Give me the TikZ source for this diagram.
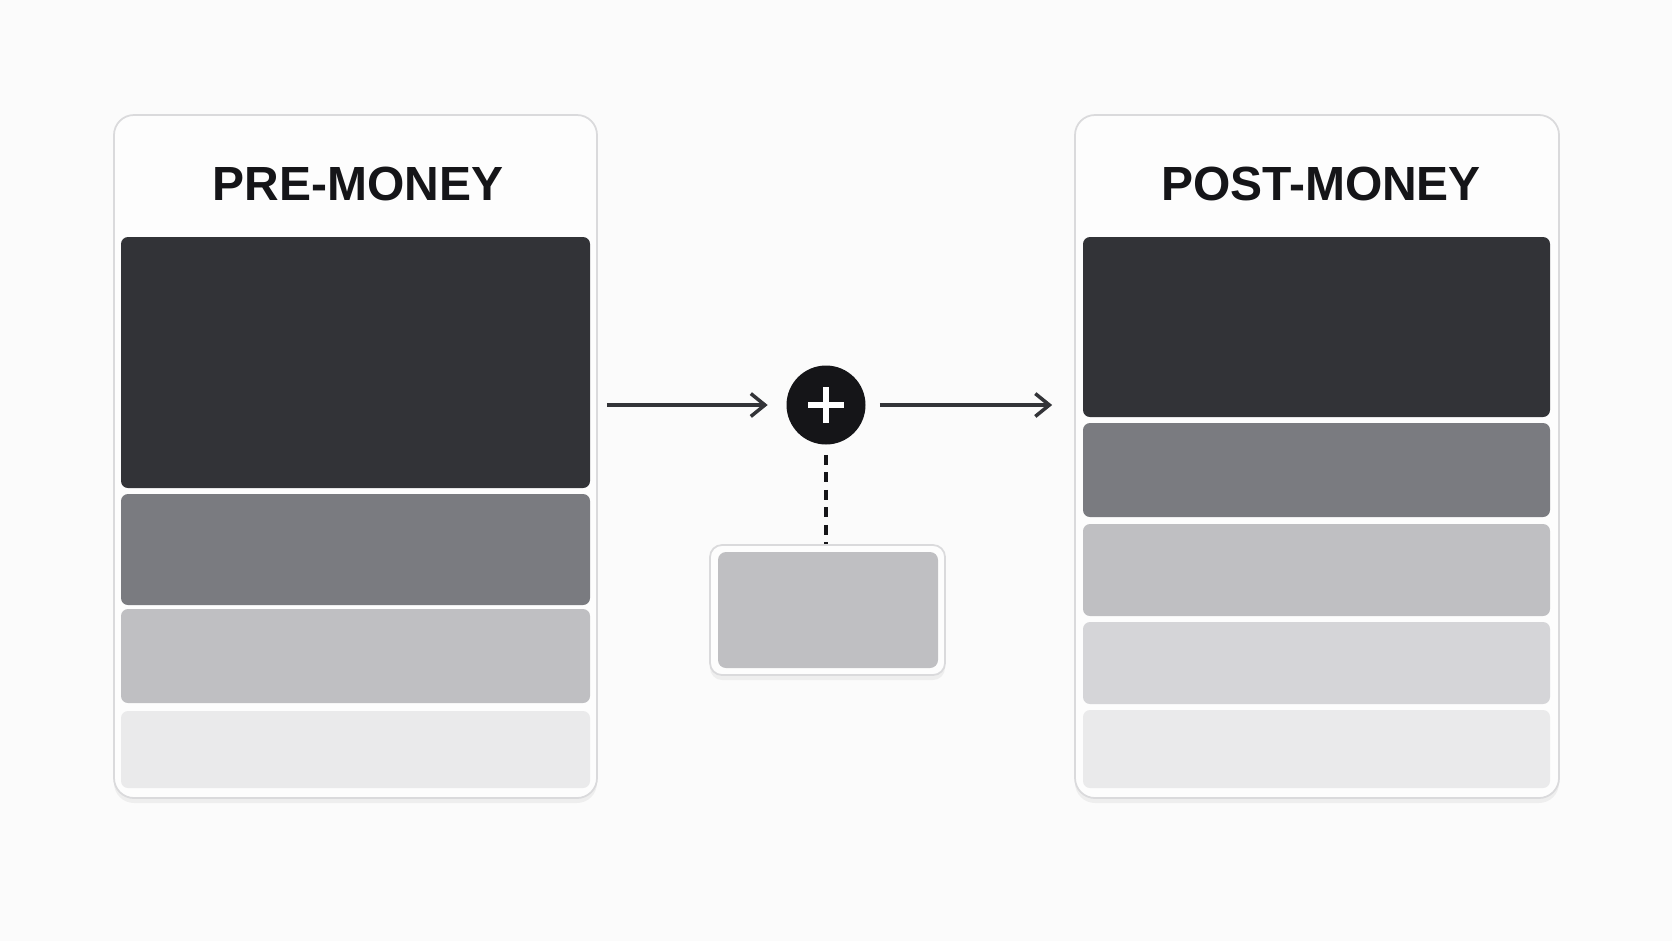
\documentclass[tikz,border=0pt]{standalone}
\usepackage{fontspec}
\setmainfont{Liberation Sans}
\usetikzlibrary{arrows.meta,fit,shadows}
\definecolor{ink}{HTML}{151518}
\definecolor{arrowgray}{HTML}{333438}
\definecolor{edge}{HTML}{DADADC}
\definecolor{paper}{HTML}{FBFBFB}
\definecolor{card}{HTML}{FDFDFD}
\definecolor{shareA}{HTML}{323337}
\definecolor{shareB}{HTML}{7A7B80}
\definecolor{shareC}{HTML}{BFBFC2}
\definecolor{shareD}{HTML}{D5D5D8}
\definecolor{shareE}{HTML}{EAEAEB}
\begin{document}
\begin{tikzpicture}
[x={(0.02cm,0)}, y={(0,-0.02cm)},
 panel/.style={draw=edge, line width=1pt, fill=card, rounded corners=0.4cm, inner sep=0pt,
   drop shadow={shadow xshift=0pt, shadow yshift=-0.1cm, opacity=0.05, fill=black}},
 bar/.style={fill=#1, rounded corners=0.14cm, inner sep=0pt},
 title/.style={font=\fontsize{27.3}{30}\selectfont\bfseries, text=ink, anchor=base},
 flow/.style={draw=arrowgray, line width=2pt, -{Straight Barb[length=8pt,width=13pt]}}]
\useasboundingbox (0,0) rectangle (1672,941);
\fill[paper] (0,0) rectangle (1672,941);

% before the round
\node (Pre) [panel, fit={(114,115) (597,798)}] {};
\node (PreTitle) at (358,200) [title] {PRE-MONEY};
\node (PreA) [bar=shareA, fit={(121,237) (590,488)}] {};
\node (PreB) [bar=shareB, fit={(121,494) (590,605)}] {};
\node (PreC) [bar=shareC, fit={(121,609) (590,703)}] {};
\node (PreD) [bar=shareE, fit={(121,711) (590,788)}] {};

% after the round
\node (Post) [panel, fit={(1075,115) (1559,798)}] {};
\node (PostTitle) at (1321,200) [title] {POST-MONEY};
\node (PostA) [bar=shareA, fit={(1083,237) (1550,417)}] {};
\node (PostB) [bar=shareB, fit={(1083,423) (1550,517)}] {};
\node (PostC) [bar=shareC, fit={(1083,524) (1550,616)}] {};
\node (PostD) [bar=shareD, fit={(1083,622) (1550,704)}] {};
\node (PostE) [bar=shareE, fit={(1083,710) (1550,788)}] {};

% new shares
\node (Plus) at (826,405) [circle, fill=ink, minimum size=1.58cm, inner sep=0pt] {};
\draw[white, line width=3.6pt] ([xshift=-0.36cm]Plus.center) -- ([xshift=0.36cm]Plus.center);
\draw[white, line width=3.6pt] ([yshift=-0.36cm]Plus.center) -- ([yshift=0.36cm]Plus.center);
\node (Round) [panel, rounded corners=0.24cm, fit={(710,545) (945,675)}] {};
\node (RoundBar) [bar=shareC, rounded corners=0.16cm, fit={(718,552) (938,668)}] {};

\draw[flow, shorten <=0.18cm, shorten >=0.37cm] (Plus -| Pre.east) -- (Plus.west);
\draw[flow, shorten <=0.28cm, shorten >=0.44cm] (Plus.east) -- (Plus -| Post.west);
\draw[ink, line width=1.8pt, dash pattern=on 0.2cm off 0.15cm, shorten <=0.2cm] (Plus.south) -- (Plus.south |- Round.north);
\end{tikzpicture}
\end{document}
